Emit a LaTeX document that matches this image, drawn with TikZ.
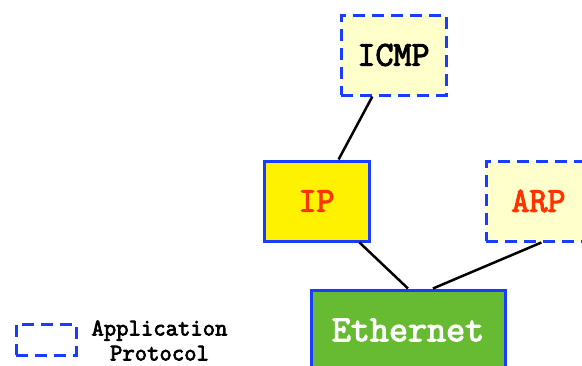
\documentclass[tikz,border=0pt]{standalone}
\usepackage{fontspec}
\newfontfamily\protofont[FakeBold=3]{Latin Modern Mono}
\usepackage{xcolor}

\definecolor{paleyellow}{HTML}{FFFFCC}
\definecolor{boxblue}{HTML}{1A3CFF}
\definecolor{textred}{HTML}{FF3300}
\definecolor{ethgreen}{HTML}{66BB33}

\begin{document}
\begin{tikzpicture}[x=1pt,y=1pt]
\tikzstyle{every node}+=[inner sep=0pt]
\tikzstyle{proto}=[draw=boxblue, line width=3pt, minimum width=105pt, minimum height=80pt,
  font=\protofont\fontsize{35}{35}\selectfont]
\tikzstyle{appproto}=[proto, fill=paleyellow, dash pattern=on 12pt off 7pt]
\tikzstyle{link}=[black, line width=2.5pt]
\useasboundingbox (0,0) rectangle (582,-365);
\clip (0,0) rectangle (582,-365);
% protocol boxes
\node [appproto] (icmp) at (393.5,-55) {ICMP};
\node [proto, fill=yellow, text=textred] (ip) at (316.5,-201) {IP};
\node [appproto, text=textred] (arp) at (538.5,-201) {ARP};
\node [proto, fill=ethgreen, text=white, minimum width=194pt] (eth) at (408,-330) {\fontsize{37}{37}\selectfont Ethernet\hspace{22pt}};
% links
\draw [link] (icmp.-117) -- (ip.62);
\draw [link] (ip.-44) -- (eth.90);
\draw [link] (arp.-86) -- (eth.59);
% legend
\node [draw=boxblue, line width=3pt, dash pattern=on 12pt off 7pt, minimum width=60pt, minimum height=31pt] (key) at (46,-339.5) {};
\node [font=\protofont\fontsize{24}{25}\selectfont, align=center] (keytext) at (159.5,-340.5) {Application\\Protocol};
\end{tikzpicture}
\end{document}
